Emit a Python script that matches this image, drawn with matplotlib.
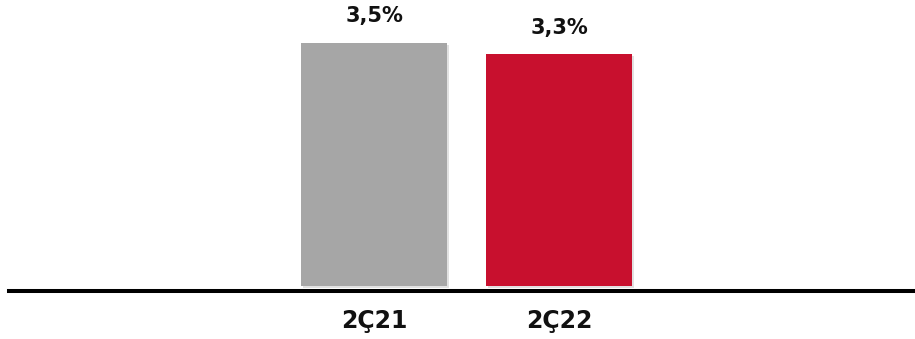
import matplotlib.pyplot as plt
import matplotlib.patheffects as pe

categories = ['2Ç21', '2Ç22']
values = [3.5, 3.34]
labels = ['3,5%', '3,3%']
colors = ['#A6A6A6', '#C8102E']


def main():
	fig = plt.figure(figsize=(9.15, 3.39), dpi=100)
	ax = fig.add_axes([9 / 915, 48 / 339, 906 / 915, 291 / 339])

	x = range(len(categories))
	bars = ax.bar(x, values, width=0.79, color=colors, zorder=2)
	for b in bars:
		b.set_path_effects([pe.SimplePatchShadow(offset=(1.5, -1.5), alpha=0.25, shadow_rgbFace='#888888'), pe.Normal()])

	ax.bar_label(bars, labels=labels, padding=12, fontsize=15, fontweight='bold', color='#111111')

	ax.set_xlim(-1.973, 2.924)
	ax.set_ylim(-0.072, 4.121)
	ax.set_xticks(list(x))
	ax.set_xticklabels(categories, fontsize=17, fontweight='bold', color='#111111')
	ax.tick_params(axis='x', length=0, pad=13)
	ax.set_yticks([])

	for s in ['top', 'left', 'right']:
		ax.spines[s].set_visible(False)
	ax.spines['bottom'].set_linewidth(2.9)
	ax.spines['bottom'].set_color('black')

	fig.savefig('out.png', dpi=100)


if __name__ == "__main__":
	main()
